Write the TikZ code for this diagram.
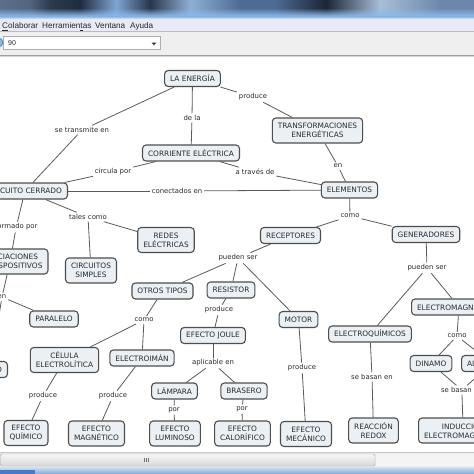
\documentclass[tikz,border=0pt]{standalone}
\usepackage{fontspec}
\setmainfont{DejaVu Sans}
\newfontfamily\menufont{Liberation Sans}
\definecolor{bordc}{HTML}{4E4E4E}
\definecolor{fillc}{HTML}{EAF0F4}
\definecolor{txtc}{HTML}{2A2A2A}
\definecolor{linkc}{HTML}{5A5A5A}
\definecolor{menubg}{HTML}{EAEAF6}
\definecolor{menuline}{HTML}{C8D2EB}
\definecolor{toolbg}{HTML}{EFEFEF}
\definecolor{toolline}{HTML}{B9B9C8}
\definecolor{toolbot}{HTML}{A0A0A0}
\definecolor{toolbotb}{HTML}{D7D7D7}
\definecolor{combobd}{HTML}{ABADB3}
\definecolor{iconfill}{HTML}{8FB8E0}
\definecolor{icondraw}{HTML}{466EA0}
\definecolor{tbblue}{HTML}{8AB8EA}
\definecolor{tbblueb}{HTML}{AACDF0}
\definecolor{sbline}{HTML}{C8C8C8}
\definecolor{sbtrack}{HTML}{ECECEC}
\definecolor{sbright}{HTML}{F4F4F4}
\definecolor{sbtop}{HTML}{F7F7F7}
\definecolor{sbbot}{HTML}{D8D8D8}
\definecolor{sbbd}{HTML}{A5A5A5}
\definecolor{taskA}{HTML}{D0E2F4}
\definecolor{taskB}{HTML}{82A8D8}
\definecolor{taskC}{HTML}{4B7BBF}
\newcommand\cmfont{\fontsize{7.4}{8.8}\selectfont}
\newcommand\lbfont{\fontsize{6.9}{8}\selectfont}
\tikzset{
  concept/.style={draw=bordc, line width=1.1pt, fill=fillc, rounded corners=3.5pt,
    font=\cmfont, text=txtc, align=center, inner xsep=5.5pt, inner ysep=2pt, minimum height=16pt},
  concepttwo/.style={concept, minimum height=25pt},
  lbl/.style={font=\lbfont, text=txtc, inner sep=1.8pt, fill=white},
  conn/.style={draw=linkc, line width=0.8pt},
  menuitem/.style={anchor=base west, inner sep=0pt, font=\menufont\fontsize{8.2}{9}\selectfont, text=black!85},
}
\begin{document}
\begin{tikzpicture}[x=1pt,y=-1pt]
\useasboundingbox (0,0) rectangle (474,474);
\begin{scope}
\clip (0,0) rectangle (474,474);
\fill[white] (0,0) rectangle (474,474);
% ---- title bar (blurred glass): piecewise horizontal gradient
\foreach \xa/\ca/\xb/\cb in {0/5A6F8A/30/53657E, 30/53657E/50/2C3A4E, 50/2C3A4E/80/1F2C40, 80/1F2C40/116/7FA6D2, 116/7FA6D2/150/27354A, 150/27354A/190/8FB0D6, 190/8FB0D6/240/4D6B93, 240/4D6B93/275/4D6B93, 275/4D6B93/326/1B2535, 326/1B2535/380/A8BFD8, 380/A8BFD8/440/6C87AB, 440/6C87AB/474/6C87AB}{
  \definecolor{tmpa}{HTML}{\ca}
  \definecolor{tmpb}{HTML}{\cb}
  \shade[left color=tmpa, right color=tmpb] (\xa-0.2,0) rectangle (\xb+0.2,18);
}
\foreach \i [evaluate=\i as \op using \i/8] in {0,...,8}{
  \fill[tbblue, opacity=\op] (0,8+\i) rectangle (474,9+\i);
}
\shade[top color=tbblue, bottom color=tbblueb] (0,16.5) rectangle (474,18);
% ---- menu bar
\fill[menubg] (0,18) rectangle (474,31);
\draw[menuline, line width=0.8pt] (0,18.5) -- (474,18.5);
\node[menuitem] (mColab) at (2,28.5) {\underline{C}olaborar};
\node[menuitem] (mHerr) at (42,28.5) {Herramien\underline{t}as};
\node[menuitem] (mVent) at (95,28.5) {Ventana};
\node[menuitem] (mAyuda) at (130,28.5) {Ayuda};
% ---- toolbar
\fill[toolbg] (0,31) rectangle (474,55);
\draw[toolline, line width=0.8pt] (0,31.4) -- (474,31.4);
\draw[toolbot, line width=1pt] (0,55.5) -- (474,55.5);
\draw[toolbotb, line width=0.8pt] (0,56.6) -- (474,56.6);
\filldraw[fill=white, draw=combobd, line width=0.7pt] (3.5,36) rectangle (160,49);
\filldraw[fill=iconfill, draw=icondraw, line width=0.6pt] (-1.5,42.5) circle (4.5);
\node[anchor=west, inner sep=0pt, font=\menufont\fontsize{7}{8}\selectfont, text=black!85] (zoomv) at (8,42.8) {90};
\fill[black!80] (151.5,42.5) -- (156.5,42.5) -- (154,45.3) -- cycle;
% ---- bottom scrollbar
\draw[sbline, line width=0.8pt] (0,452.6) -- (474,452.6);
\fill[sbtrack] (0,453) rectangle (474,467);
\fill[sbright] (376,454) rectangle (474,466);
\shade[top color=sbtop, bottom color=sbbot, draw=sbbd, rounded corners=1.5pt] (0.5,454) rectangle (375,466);
\foreach \gx in {144,146,148}{\draw[black!55, line width=0.5pt] (\gx,457.8) -- (\gx,462.2);}
% ---- taskbar
\shade[top color=taskA, bottom color=taskB] (0,467) rectangle (474,474);
\fill[taskC] (0,469.5) rectangle (35,474);

% ================= concepts
\node[concept] (energia) at (192.5,78.5) {LA ENERGÍA};
\node[concept] (corriente) at (191,153) {CORRIENTE ELÉCTRICA};
\node[concept, anchor=east] (circuito) at (68,191) {CIRCUITO CERRADO};
\node[concepttwo] (transf) at (317.5,130.5) {TRANSFORMACIONES\\ENERGÉTICAS};
\node[concept] (elementos) at (349.5,190) {ELEMENTOS};
\node[concept] (receptores) at (290.5,235.5) {RECEPTORES};
\node[concept] (generadores) at (426,234.5) {GENERADORES};
\node[concepttwo] (redes) at (166,240) {REDES\\ELÉCTRICAS};
\node[concepttwo] (simples) at (91,270.5) {CIRCUITOS\\SIMPLES};
\node[concepttwo, anchor=east] (asoc) at (48.5,261.5) {ASOCIACIONES\\DE DISPOSITIVOS};
\node[concept] (paralelo) at (54,319) {PARALELO};
\node[concept, anchor=east] (mixto) at (8,369.5) {MIXTO};
\node[concept] (otros) at (162.5,291) {OTROS TIPOS};
\node[concept] (resistor) at (231,290) {RESISTOR};
\node[concept] (motor) at (298.5,319.5) {MOTOR};
\node[concept] (joule) at (213,335.5) {EFECTO JOULE};
\node[concept] (electroq) at (370,334) {ELECTROQUÍMICOS};
\node[concept, anchor=west] (electromag) at (411,307) {ELECTROMAGNÉTICOS};
\node[concepttwo] (celula) at (64.5,360) {CÉLULA\\ELECTROLÍTICA};
\node[concept] (electroiman) at (142,358) {ELECTROIMÁN};
\node[concept] (lampara) at (174.5,391) {LÁMPARA};
\node[concept] (brasero) at (244,391) {BRASERO};
\node[concept] (dinamo) at (431,363.5) {DINAMO};
\node[concept, anchor=west] (alternador) at (461,363.5) {ALTERNADOR};
\node[concepttwo] (quimico) at (26,433) {EFECTO\\QUÍMICO};
\node[concepttwo] (magnetico) at (96.5,433.5) {EFECTO\\MAGNÉTICO};
\node[concepttwo] (luminoso) at (175,433.5) {EFECTO\\LUMINOSO};
\node[concepttwo] (calorifico) at (242.5,433.5) {EFECTO\\CALORÍFICO};
\node[concepttwo] (mecanico) at (306,434) {EFECTO\\MECÁNICO};
\node[concepttwo] (redox) at (373.5,430.5) {REACCIÓN\\REDOX};
\node[concepttwo, anchor=west] (induccion) at (418,430.5) {INDUCCIÓN\\ELECTROMAGNÉTICA};

% ================= linking phrases
\node[lbl] (lTransmite) at (82,130) {se transmite en};
\node[lbl] (lDela) at (192,118) {de la};
\node[lbl] (lProduceA) at (253,97) {produce};
\node[lbl] (lEnA) at (338,166) {en};
\node[lbl] (lCircula) at (113,172) {circula por};
\node[lbl] (lAtraves) at (255,172) {a través de};
\node[lbl] (lConectados) at (177,191) {conectados en};
\node[lbl, anchor=east] (lFormado) at (39.5,227) {formado por};
\node[lbl] (lTales) at (88,217) {tales como};
\node[lbl] (lEnB) at (2,297) {en};
\node[lbl] (lComoA) at (350,216) {como};
\node[lbl] (lPuedenA) at (238,258) {pueden ser};
\node[lbl] (lPuedenB) at (427,268) {pueden ser};
\node[lbl] (lComoB) at (144,320) {como};
\node[lbl] (lProduceB) at (219,310) {produce};
\node[lbl] (lAplicable) at (213,363) {aplicable en};
\node[lbl] (lProduceC) at (302,368) {produce};
\node[lbl] (lBasanA) at (372,377) {se basan en};
\node[lbl] (lComoC) at (457,336) {como};
\node[lbl, anchor=west] (lBasanB) at (439,390) {se basan en};
\node[lbl] (lProduceD) at (43,396) {produce};
\node[lbl] (lProduceE) at (113,396) {produce};
\node[lbl] (lPorA) at (174,410) {por};
\node[lbl] (lPorB) at (242,409) {por};

% ================= connectors
\draw[conn] (energia) -- (lTransmite);  \draw[conn] (lTransmite) -- (circuito);
\draw[conn] (energia) -- (lDela);       \draw[conn] (lDela) -- (corriente);
\draw[conn] (energia) -- (lProduceA);   \draw[conn] (lProduceA) -- (transf);
\draw[conn] (transf) -- (lEnA);         \draw[conn] (lEnA) -- (elementos);
\draw[conn] (corriente) -- (lCircula);  \draw[conn] (lCircula) -- (circuito);
\draw[conn] (corriente) -- (lAtraves);  \draw[conn] (lAtraves) -- (elementos);
\draw[conn] (circuito) -- (lConectados);\draw[conn] (lConectados) -- (elementos);
\draw[conn] (circuito) -- (lFormado);   \draw[conn] (lFormado) -- (asoc);
\draw[conn] (circuito) -- (lTales);     \draw[conn] (lTales) -- (redes); \draw[conn] (lTales) -- (simples);
\draw[conn] (asoc) -- (lEnB);           \draw[conn] (lEnB) -- (paralelo); \draw[conn] (lEnB) -- (mixto);
\draw[conn] (elementos) -- (lComoA);    \draw[conn] (lComoA) -- (receptores); \draw[conn] (lComoA) -- (generadores);
\draw[conn] (receptores) -- (lPuedenA); \draw[conn] (lPuedenA) -- (otros); \draw[conn] (lPuedenA) -- (resistor); \draw[conn] (lPuedenA) -- (motor);
\draw[conn] (generadores) -- (lPuedenB);\draw[conn] (lPuedenB) -- (electroq); \draw[conn] (lPuedenB) -- (electromag);
\draw[conn] (otros) -- (lComoB);        \draw[conn] (lComoB) -- (celula); \draw[conn] (lComoB) -- (electroiman);
\draw[conn] (resistor) -- (lProduceB);  \draw[conn] (lProduceB) -- (joule);
\draw[conn] (joule) -- (lAplicable);    \draw[conn] (lAplicable) -- (lampara); \draw[conn] (lAplicable) -- (brasero);
\draw[conn] (lampara) -- (lPorA);       \draw[conn] (lPorA) -- (luminoso);
\draw[conn] (brasero) -- (lPorB);       \draw[conn] (lPorB) -- (calorifico);
\draw[conn] (motor) -- (lProduceC);     \draw[conn] (lProduceC) -- (mecanico);
\draw[conn] (electroq) -- (lBasanA);    \draw[conn] (lBasanA) -- (redox);
\draw[conn] (electromag) -- (lComoC);   \draw[conn] (lComoC) -- (dinamo); \draw[conn] (lComoC) -- (alternador);
\draw[conn] (dinamo) -- (lBasanB);      \draw[conn] (alternador) -- (lBasanB); \draw[conn] (lBasanB) -- (induccion);
\draw[conn] (celula) -- (lProduceD);    \draw[conn] (lProduceD) -- (quimico);
\draw[conn] (electroiman) -- (lProduceE); \draw[conn] (lProduceE) -- (magnetico);
\end{scope}
\end{tikzpicture}
\end{document}
